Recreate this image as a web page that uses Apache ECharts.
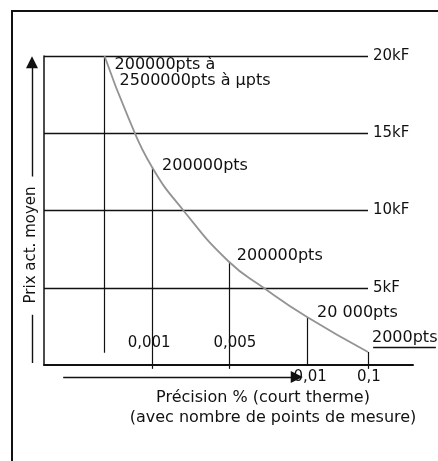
<!DOCTYPE html>
<html><head><meta charset="utf-8">
<script src="https://cdn.jsdelivr.net/npm/echarts@6/dist/echarts.min.js"></script>
<style>html,body{margin:0;padding:0;background:#fff}#c{width:438px;height:461px}</style>
</head><body><div id="c"></div>
<script>
// Price levels (kF)
const priceLevels = [5, 10, 15, 20];
const priceLabels = ['5kF', '10kF', '15kF', '20kF'];
// Measurement points: position on the (non-linear) precision axis and price (kF)
const pointPos = [16.4, 29.3, 50.1, 71.3, 87.8];
const pointPrice = [20, 12.8, 6.65, 3.1, 0.84];
const pointLabels = ['200000pts à\n 2500000pts à μpts', '200000pts', '200000pts', '20 000pts', '2000pts'];
// Precision tick labels (at pointPos[1..4])
const precisionLabels = ['0,001', '0,005', '0,01', '0,1'];
// Price curve
const curvePos = [16.4, 22.8, 29.3, 37.9, 49.9, 59.6, 71.3, 87.8];
const curvePrice = [20, 16.05, 12.8, 9.97, 6.73, 4.98, 3.1, 0.84];
// Axis titles
const yTitle = 'Prix act. moyen';
const xTitle1 = 'Précision % (court therme)';
const xTitle2 = '(avec nombre de points de mesure)';

const FONT = 'DejaVu Sans';
const INK = '#111111';
const chart = echarts.init(document.getElementById('c'), null, {renderer: 'canvas'});

const levelEnd = pointPos[4];
const dropBottom = [0.8, -0.25, -0.25, 0, -0.25];

const levelLines = priceLevels.map((v, i) => ({
  name: priceLabels[i],
  coords: [[0, v], [levelEnd, v]]
}));
const dropLines = pointPos.map((p, i) => ({coords: [[p, pointPrice[i]], [p, dropBottom[i]]]}));

const ptLabelCfg = [
  {distance: 10, offset: [0, 17]},
  {distance: 10, offset: [0, -1]},
  {distance: 8, offset: [0, -6]},
  {distance: 10, offset: [0, -4]},
  {distance: 4, offset: [0, -14]}
];
const precCfg = [
  {position: 'top', distance: 14, offset: [-3, 0]},
  {position: 'top', distance: 14, offset: [6, 0]},
  {position: 'bottom', distance: 5, offset: [3, 0]},
  {position: 'bottom', distance: 5, offset: [1, 0]}
];

const textBase = {color: INK, fontFamily: FONT};
const labelHolder = {
  type: 'scatter', clip: false, silent: true, symbolSize: 0,
  itemStyle: {opacity: 1, color: INK}
};

const option = {
  backgroundColor: '#ffffff',
  animation: false,
  grid: {left: 44, top: 56, right: 25, bottom: 96},
  xAxis: {
    type: 'value', min: 0, max: 100,
    axisLine: {show: true, onZero: false, lineStyle: {color: INK, width: 2}},
    axisTick: {show: false}, axisLabel: {show: false}, splitLine: {show: false}
  },
  yAxis: {
    type: 'value', min: 0, max: 20,
    axisLine: {show: true, lineStyle: {color: INK, width: 1.5}},
    axisTick: {show: false}, axisLabel: {show: false}, splitLine: {show: false}
  },
  graphic: [{
    type: 'rect', silent: true,
    shape: {x: 12, y: 11, width: 440, height: 470},
    style: {fill: 'none', stroke: INK, lineWidth: 2}
  }],
  series: [
    {
      type: 'lines', coordinateSystem: 'cartesian2d', clip: false, silent: true,
      symbol: 'none',
      lineStyle: {color: INK, width: 1.3, opacity: 1},
      label: {show: true, position: 'end', distance: 5, formatter: '{b}',
        fontSize: 15, padding: [0, 0, 7, 0], ...textBase},
      data: levelLines
    },
    {
      type: 'lines', coordinateSystem: 'cartesian2d', clip: false, silent: true,
      symbol: 'none',
      lineStyle: {color: INK, width: 1.2, opacity: 1},
      data: dropLines
    },
    {
      type: 'line', data: curvePos.map((x, i) => [x, curvePrice[i]]),
      smooth: 0.5, showSymbol: false, silent: true, clip: false,
      lineStyle: {color: '#939393', width: 1.8}
    },
    // arrows
    {
      type: 'lines', coordinateSystem: 'cartesian2d', clip: false, silent: true,
      symbol: ['none', 'triangle'], symbolSize: [10, 12],
      lineStyle: {color: INK, width: 1.4, opacity: 1},
      data: [
        {coords: [[5.2, -0.78], [68.5, -0.78]]},
        {coords: [[-3.25, 12.2], [-3.25, 19.6]]}
      ]
    },
    {
      type: 'lines', coordinateSystem: 'cartesian2d', clip: false, silent: true,
      symbol: 'none',
      lineStyle: {color: INK, width: 1.4, opacity: 1},
      data: [
        {coords: [[-3.25, 3.25], [-3.25, 0.13]]},
        {coords: [[89.2, 1.17], [106.2, 1.17]]}
      ]
    },
    // curve point labels
    Object.assign({}, labelHolder, {
      data: pointPos.map((p, i) => ({
        value: [p, pointPrice[i]],
        label: {show: true, position: 'right', formatter: pointLabels[i],
          fontSize: 16, lineHeight: 16, align: 'left', ...ptLabelCfg[i], ...textBase}
      }))
    }),
    // precision labels
    Object.assign({}, labelHolder, {
      data: precisionLabels.map((t, i) => ({
        value: [pointPos[i + 1], 0],
        label: {show: true, formatter: t, fontSize: 15, ...precCfg[i], ...textBase}
      }))
    }),
    // axis titles
    Object.assign({}, labelHolder, {
      data: [
        {value: [-3.6, 7.77], label: {show: true, position: 'inside', rotate: 90, formatter: yTitle, fontSize: 15, ...textBase}},
        {value: [59.35, -2.14], label: {show: true, position: 'inside', formatter: xTitle1, fontSize: 16, ...textBase}},
        {value: [62.06, -3.43], label: {show: true, position: 'inside', formatter: xTitle2, fontSize: 16, ...textBase}}
      ]
    })
  ]
};
chart.setOption(option);
</script></body></html>
